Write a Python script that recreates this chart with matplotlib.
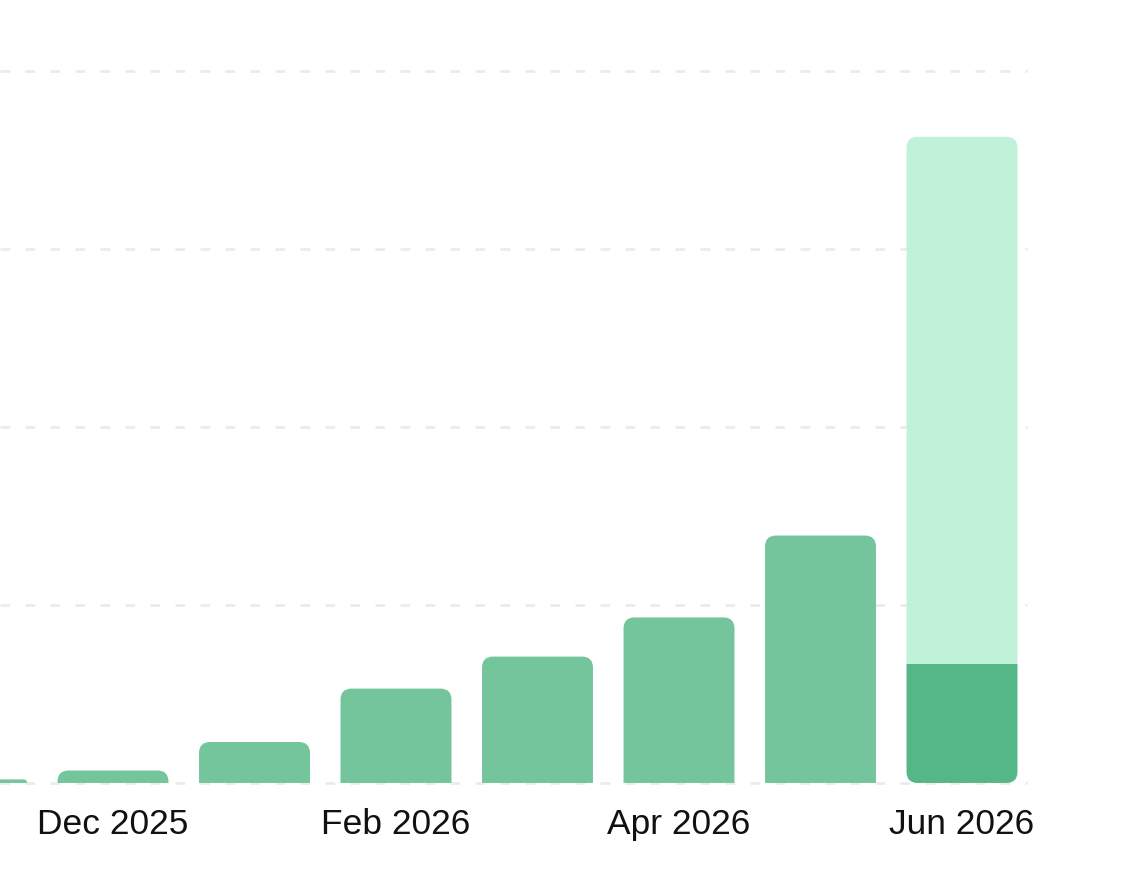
import matplotlib
matplotlib.use("Agg")
import matplotlib.pyplot as plt
from matplotlib.path import Path
from matplotlib.patches import PathPatch

plt.rcParams['font.family'] = ['Liberation Sans', 'DejaVu Sans']

# monthly values (grid step = 100)
months = ["Nov 2025", "Dec 2025", "Jan 2026", "Feb 2026", "Mar 2026", "Apr 2026", "May 2026", "Jun 2026"]
actual = [2, 7, 23, 53, 71, 93, 139, 67]
projected = [0, 0, 0, 0, 0, 0, 0, 296]
shown_labels = ["Dec 2025", "Feb 2026", "Apr 2026", "Jun 2026"]
y_ticks = [0, 100, 200, 300, 400]

bar_color = "#74C59C"
dark_color = "#55B786"
light_color = "#BFF2D9"
grid_color = "#EBEBEB"

fig = plt.figure(figsize=(11.32, 8.84), dpi=100)
ax = fig.add_axes([0, 0.1143, 0.9072, 0.8054])
ax.set_xlim(0.2014, 7.459)
ax.set_ylim(0, 400)
for s in ax.spines.values():
    s.set_visible(False)

for t in y_ticks:
    ax.axhline(t, color=grid_color, lw=2, ls=(0, (3.5, 5.5)), clip_on=False, zorder=0)

# corner radius in pixels -> data units
px_x = ax.transData.transform((1, 0))[0] - ax.transData.transform((0, 0))[0]
px_y = ax.transData.transform((0, 1))[1] - ax.transData.transform((0, 0))[1]
R = 11


def rounded_bar(x0, x1, y0, y1, top=True, bottom=False, color="k"):
    h = (y1 - y0) * px_y
    r = min(R, h / (2 if (top and bottom) else 1))
    rx, ry = r / px_x, r / px_y
    verts, codes = [], []
    if bottom:
        verts += [(x0 + rx, y0)]
        codes += [Path.MOVETO]
    else:
        verts += [(x0, y0)]
        codes += [Path.MOVETO]
    # left side going up
    if bottom:
        verts += [(x0, y0), (x0, y0 + ry)]
        codes += [Path.CURVE3, Path.CURVE3]
    if top:
        verts += [(x0, y1 - ry), (x0, y1), (x0 + rx, y1), (x1 - rx, y1), (x1, y1), (x1, y1 - ry)]
        codes += [Path.LINETO, Path.CURVE3, Path.CURVE3, Path.LINETO, Path.CURVE3, Path.CURVE3]
    else:
        verts += [(x0, y1), (x1, y1)]
        codes += [Path.LINETO, Path.LINETO]
    if bottom:
        verts += [(x1, y0 + ry), (x1, y0), (x1 - rx, y0)]
        codes += [Path.LINETO, Path.CURVE3, Path.CURVE3]
    else:
        verts += [(x1, y0)]
        codes += [Path.LINETO]
    verts += [(0, 0)]
    codes += [Path.CLOSEPOLY]
    ax.add_patch(PathPatch(Path(verts, codes), facecolor=color, edgecolor="none", zorder=2))


w = 0.784
for i, (a, p) in enumerate(zip(actual, projected)):
    x0, x1 = i - w / 2, i + w / 2
    if p > 0:
        rounded_bar(x0, x1, 0, a, top=False, bottom=True, color=dark_color)
        rounded_bar(x0, x1, a, a + p, top=True, bottom=False, color=light_color)
    else:
        rounded_bar(x0, x1, 0, a, color=bar_color)

ax.set_xticks([months.index(m) for m in shown_labels])
ax.set_xticklabels(shown_labels, fontsize=25.5, color="#111111")
ax.tick_params(axis="x", length=0, pad=18)
ax.set_yticks([])

fig.savefig("out.png", dpi=100)
